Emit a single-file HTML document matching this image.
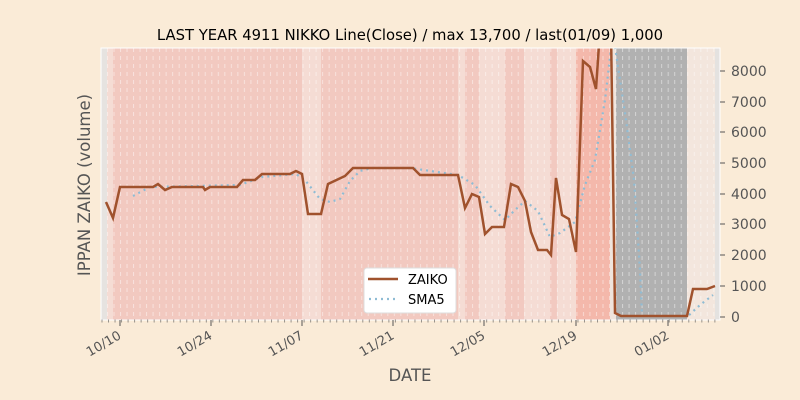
<!DOCTYPE html><html><head><style>body{margin:0;background:#faebd7;overflow:hidden}svg{display:block}</style></head><body>
<svg width="800" height="400" xmlns="http://www.w3.org/2000/svg" font-family="DejaVu Sans, Liberation Sans, sans-serif">
<defs><clipPath id="c"><rect x="101" y="48" width="619" height="272"/></clipPath>
<pattern id="dl" width="6.52" height="8" patternUnits="userSpaceOnUse" x="120"><line x1="0.5" y1="0" x2="0.5" y2="4" stroke="#fff" stroke-opacity="0.45" stroke-width="1"/></pattern></defs>
<rect x="0" y="0" width="800" height="400" fill="#faebd7"/>
<g>
<rect x="101" y="48" width="619" height="272" fill="#f2c9c0"/>
<rect x="101" y="48" width="6" height="272" fill="#e6e3e0"/>
<rect x="107" y="48" width="6" height="272" fill="#f5dcd4"/>
<rect x="302" y="48" width="19" height="272" fill="#f5dcd4"/>
<rect x="458" y="48" width="7" height="272" fill="#f5dcd4"/>
<rect x="479" y="48" width="26" height="272" fill="#f5dcd4"/>
<rect x="524" y="48" width="26" height="272" fill="#f5dcd4"/>
<rect x="557" y="48" width="19" height="272" fill="#f5dcd4"/>
<rect x="576" y="48" width="34" height="272" fill="#f4b8ab"/>
<rect x="610" y="48" width="6" height="272" fill="#f0e4dc"/>
<rect x="616" y="48" width="71" height="272" fill="#b1b1b1"/>
<rect x="687" y="48" width="28" height="272" fill="#f3e6dd"/>
<rect x="715" y="48" width="5" height="272" fill="#e4e2e0"/>
<rect x="101" y="48" width="619" height="272" fill="url(#dl)"/>
</g>
<g clip-path="url(#c)">
<polyline fill="none" stroke="#8fbcd4" stroke-width="2.2" stroke-dasharray="2,4" points="133,196 150,187 240,185 262,177 296,174 305,180 320,199 330,202 340,199 350,181 360,171 372,168 410,168 458,175 475,185 490,206 505,220 515,210 525,201 538,211 550,237 560,233 575,222 585,185 595,160 605,100 612,40 614,40 626,120 634,180 640,270 642,316 688,316 700,305 713,295"/>
<polyline fill="none" stroke="#a0522d" stroke-width="2.5" points="106,202 113,218 120,187 153,187 158,184 165,190 172,187 203,187 205,190 210,187 237,187 243,180 255,180 262,174 290,174 296,171 302,174 308,214 321,214 328,184 345,176 353,168 413,168 420,175 458,175 465,208 472,194 479,197 485,234 492,227 504,227 511,184 518,187 525,201 531,232 538,250 547,250 551,255 556,178 562,215 569,219 576,252 583,61 590,67 596,89 600,30 611,30 615,313 621,316 687,316 693,289 707,289 715,286"/>
</g>
<rect x="101" y="48" width="619" height="272" fill="none" stroke="#fff" stroke-width="1"/>
<g fill="#555" font-size="14" text-anchor="start">
<text x="731" y="76">8000</text><text x="731" y="107">7000</text><text x="731" y="137">6000</text><text x="731" y="168">5000</text><text x="731" y="199">4000</text><text x="731" y="229">3000</text><text x="731" y="260">2000</text><text x="731" y="291">1000</text><text x="731" y="322">0</text>
</g>
<g stroke="#555">
<line x1="720" y1="71" x2="725" y2="71"/><line x1="720" y1="102" x2="725" y2="102"/><line x1="720" y1="132" x2="725" y2="132"/><line x1="720" y1="163" x2="725" y2="163"/><line x1="720" y1="194" x2="725" y2="194"/><line x1="720" y1="224" x2="725" y2="224"/><line x1="720" y1="255" x2="725" y2="255"/><line x1="720" y1="286" x2="725" y2="286"/><line x1="720" y1="317" x2="725" y2="317"/>
<line x1="120" y1="320" x2="120" y2="326"/><line x1="211" y1="320" x2="211" y2="326"/><line x1="302" y1="320" x2="302" y2="326"/><line x1="393" y1="320" x2="393" y2="326"/><line x1="484" y1="320" x2="484" y2="326"/><line x1="576" y1="320" x2="576" y2="326"/><line x1="668" y1="320" x2="668" y2="326"/>
</g>
<line x1="101" y1="321" x2="720" y2="321" stroke="#555" stroke-dasharray="1,5.52" stroke-dashoffset="-0.5" stroke-width="3" opacity="0.6"/>
<g fill="#555" font-size="13" text-anchor="end">
<text transform="translate(122,338) rotate(-30)">10/10</text>
<text transform="translate(213,338) rotate(-30)">10/24</text>
<text transform="translate(304,338) rotate(-30)">11/07</text>
<text transform="translate(395,338) rotate(-30)">11/21</text>
<text transform="translate(486,338) rotate(-30)">12/05</text>
<text transform="translate(578,338) rotate(-30)">12/19</text>
<text transform="translate(670,338) rotate(-30)">01/02</text>
</g>
<text x="410" y="381" text-anchor="middle" font-size="16.5" fill="#555">DATE</text>
<text transform="translate(90,185) rotate(-90)" text-anchor="middle" font-size="16.5" fill="#555">IPPAN ZAIKO (volume)</text>
<text x="410" y="40" text-anchor="middle" font-size="14.8" fill="#000">LAST YEAR 4911 NIKKO Line(Close) / max 13,700 / last(01/09) 1,000</text>
<rect x="364" y="268" width="92" height="45" rx="3" fill="#fff" stroke="#ddd"/>
<line x1="368" y1="279" x2="398" y2="279" stroke="#a0522d" stroke-width="2.5"/>
<line x1="369" y1="299" x2="398" y2="299" stroke="#8fbcd4" stroke-width="2.2" stroke-dasharray="2,4"/>
<text x="408" y="284" font-size="13">ZAIKO</text>
<text x="408" y="304" font-size="13">SMA5</text>
</svg></body></html>
